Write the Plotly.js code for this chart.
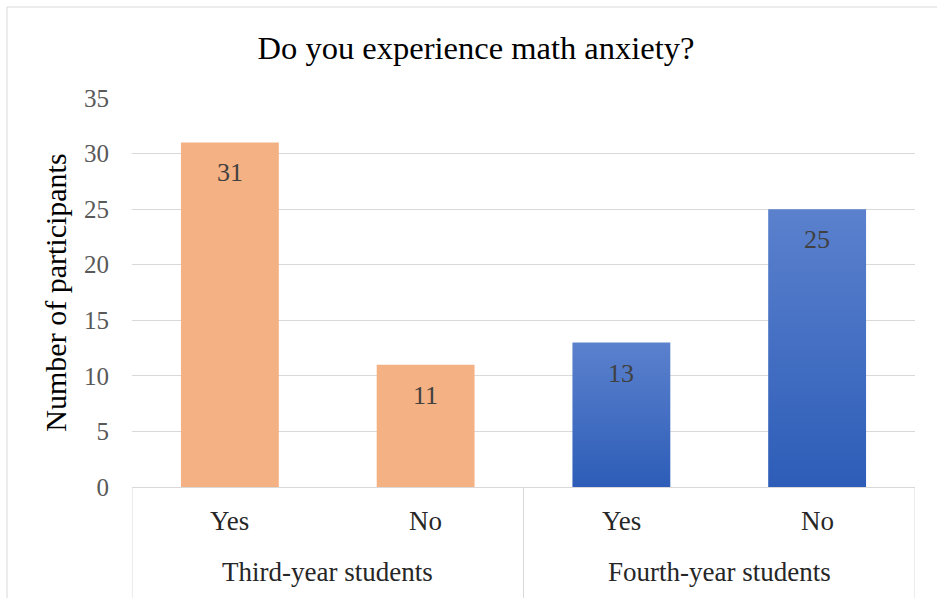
<!DOCTYPE html>
<html>
<head>
<meta charset="utf-8">
<script src="https://cdn.plot.ly/plotly-3.0.1.min.js"></script>
<style>html,body{margin:0;padding:0;background:#fff;}#chart{width:937px;height:598px;}</style>
</head>
<body>
<div id="chart"></div>
<script>
const groups = ["Third-year students", "Third-year students", "Fourth-year students", "Fourth-year students"];
const answers = ["Yes", "No", "Yes", "No"];
const participants = [31, 11, 13, 25];
const barColors = ["#F4B183", "#F4B183", "#4472C4", "#4472C4"];
const yTicks = [0, 5, 10, 15, 20, 25, 30, 35];

const W = 937, H = 598;
const L = 132, R = 22, T = 98, B = 111;
const pw = W - L - R, ph = H - T - B;
const px = v => (v - L) / pw;
const py = v => (H - B - v) / ph;

const trace = {
  type: 'bar',
  x: [groups, answers],
  y: participants,
  marker: {color: barColors, line: {width: 0}},
  hoverinfo: 'none',
  showlegend: false
};

const serif = 'Liberation Serif';
const annotations = [];
participants.forEach((v, i) => {
  annotations.push({
    x: i, y: v, xref: 'x', yref: 'y',
    text: String(v), showarrow: false,
    yanchor: 'top', yshift: -14,
    font: {family: serif, size: 26, color: '#404040'}
  });
  annotations.push({
    x: i, y: py(521), xref: 'x', yref: 'paper',
    text: answers[i], showarrow: false, yanchor: 'middle',
    font: {family: serif, size: 27, color: '#262626'}
  });
});
// group labels (centred on their categories) and group dividers
const groupNames = [...new Set(groups)];
const dividerShapes = [];
groupNames.forEach(g => {
  const idx = groups.map((gg, i) => gg === g ? i : -1).filter(i => i >= 0);
  const first = idx[0], last = idx[idx.length - 1];
  annotations.push({
    x: (first + last) / 2, y: py(572), xref: 'x', yref: 'paper',
    text: g, showarrow: false, yanchor: 'middle',
    font: {family: serif, size: 27, color: '#262626'}
  });
  [first - 0.5, last + 0.5].forEach(xv => {
    dividerShapes.push({type: 'line', xref: 'x', yref: 'paper', x0: xv, x1: xv, y0: 0, y1: py(600),
      line: {color: '#D9D9D9', width: 1}});
  });
});

const layout = {
  width: W, height: H,
  margin: {l: L, r: R, t: T, b: B, pad: 0},
  paper_bgcolor: '#ffffff',
  plot_bgcolor: '#ffffff',
  bargap: 0.5,
  font: {family: serif, color: '#595959'},
  title: {
    text: 'Do you experience math anxiety?',
    font: {family: serif, size: 32.5, color: '#000000'},
    x: 476 / W, xanchor: 'center', xref: 'container',
    y: 1 - 48 / H, yanchor: 'middle', yref: 'container'
  },
  xaxis: {
    type: 'multicategory',
    showline: true, linecolor: '#D9D9D9', linewidth: 1,
    showgrid: false, zeroline: false,
    ticks: '', showticklabels: false, showdividers: false,
    range: [-0.5, participants.length - 0.5]
  },
  yaxis: {
    range: [0, 35],
    tickvals: yTicks,
    ticktext: yTicks.map(String),
    showgrid: true, gridcolor: '#D9D9D9', gridwidth: 1,
    zeroline: false, showline: false,
    ticks: '', ticklabelstandoff: 22,
    tickfont: {family: serif, size: 25, color: '#595959'},
    title: {text: 'Number of participants', standoff: 8,
            font: {family: serif, size: 30, color: '#000000'}}
  },
  annotations: annotations,
  shapes: [
    {type: 'line', xref: 'paper', yref: 'paper', x0: px(7), x1: px(937), y0: py(7), y1: py(7), line: {color: '#D9D9D9', width: 1}},
    {type: 'line', xref: 'paper', yref: 'paper', x0: px(7), x1: px(7), y0: py(7), y1: py(598), line: {color: '#D9D9D9', width: 1}}
  ].concat(dividerShapes)
};

Plotly.newPlot('chart', [trace], layout, {displayModeBar: false, staticPlot: true}).then(function (gd) {
  const svg = gd.querySelector('.main-svg');
  const ns = 'http://www.w3.org/2000/svg';
  let defs = svg.querySelector('defs');
  if (!defs) { defs = document.createElementNS(ns, 'defs'); svg.insertBefore(defs, svg.firstChild); }
  const grad = document.createElementNS(ns, 'linearGradient');
  grad.setAttribute('id', 'blueGrad');
  grad.setAttribute('x1', '0'); grad.setAttribute('y1', '0');
  grad.setAttribute('x2', '0'); grad.setAttribute('y2', '1');
  [['0', '#5B81CD'], ['1', '#2D5DB8']].forEach(function (s) {
    const st = document.createElementNS(ns, 'stop');
    st.setAttribute('offset', s[0]); st.setAttribute('stop-color', s[1]);
    grad.appendChild(st);
  });
  defs.appendChild(grad);
  const paths = gd.querySelectorAll('.trace.bars .point path');
  paths.forEach(function (p, i) {
    if (barColors[i] === '#4472C4') p.style.fill = 'url(#blueGrad)';
  });
});
</script>
</body>
</html>
